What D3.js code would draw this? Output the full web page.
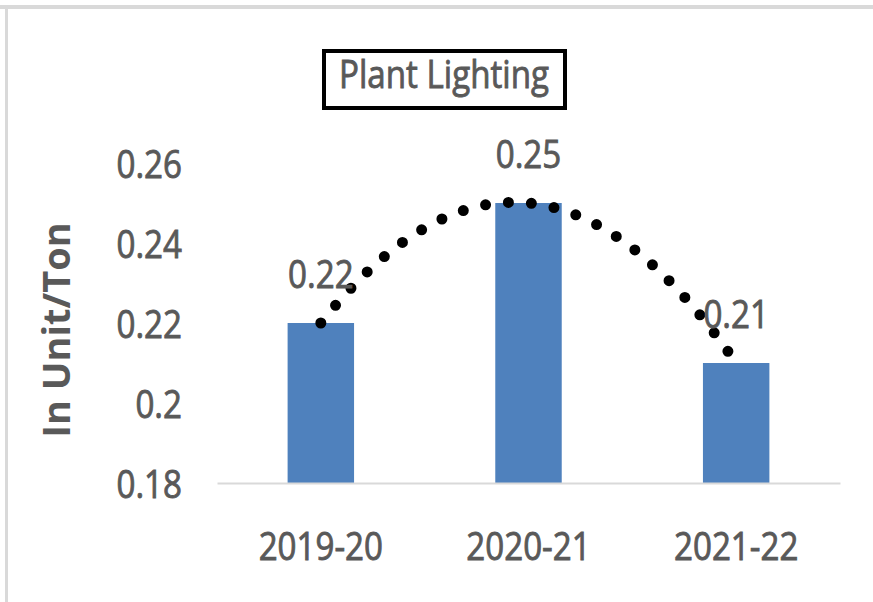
<!DOCTYPE html>
<html>
<head>
<meta charset="utf-8">
<script src="https://cdn.jsdelivr.net/npm/d3@7"></script>
<style>
  body { margin: 0; background: #fff; }
  text { font-family: "Open Sans", sans-serif; fill: #595959; }
  .semi { stroke: #595959; stroke-width: 0.9px; }
</style>
</head>
<body>
<div id="chart-area"></div>
<script>
// data
var years = ["2019-20", "2020-21", "2021-22"];
var values = [0.22, 0.25, 0.21];
var yTicks = [0.18, 0.2, 0.22, 0.24, 0.26];

var W = 873, H = 602;
var sx = 0.85; // narrow the glyphs a bit (the original font is condensed)

var svg = d3.select("#chart-area").append("svg")
    .attr("width", W)
    .attr("height", H);

// frame edges (top and left only, like the screenshot)
svg.append("rect").attr("x", 0).attr("y", 5).attr("width", W).attr("height", 4).attr("fill", "#d9d9d9");
svg.append("rect").attr("x", 5).attr("y", 5).attr("width", 3).attr("height", H).attr("fill", "#d9d9d9");

var x = d3.scaleBand().domain(years).range([217, 840]).paddingInner(0.68).paddingOuter(0.34);
var y = d3.scaleLinear().domain([0.18, 0.26]).range([483, 163]);

// Y axis (labels only)
var leftAxis = d3.axisLeft(y).tickValues(yTicks).tickSize(0).tickPadding(0)
    .tickFormat(function(d) { return String(+d.toFixed(2)); });
var yAxis = svg.append("g").attr("transform", "translate(182,0)").call(leftAxis);
yAxis.select(".domain").remove();
yAxis.selectAll("text")
    .attr("class", "semi")
    .attr("font-size", "39px")
    .attr("x", 0)
    .attr("dy", "0.36em")
    .attr("transform", "scale(" + sx + ",1)")
    .style("font-family", "'Open Sans', sans-serif")
    .style("fill", "#595959");

// bars
svg.selectAll("rect.bar")
    .data(values)
    .enter().append("rect")
    .attr("class", "bar")
    .attr("x", function(d, i) { return x(years[i]); })
    .attr("y", function(d) { return y(d); })
    .attr("width", x.bandwidth())
    .attr("height", function(d) { return y(0.18) - y(d); })
    .attr("fill", "#4f81bd");

// X axis
var bottomAxis = d3.axisBottom(x).tickSize(0).tickPadding(0);
var xAxis = svg.append("g").attr("transform", "translate(0,483)").call(bottomAxis);
xAxis.select(".domain").attr("stroke", "#d9d9d9").attr("stroke-width", 2);
xAxis.selectAll("text")
    .attr("class", "semi")
    .attr("font-size", "39px")
    .attr("y", 0)
    .attr("dy", 0)
    .attr("transform", "translate(0,77) scale(" + sx + ",1)")
    .style("font-family", "'Open Sans', sans-serif")
    .style("fill", "#595959");

// polynomial (order 2) trendline fitted to the three values
var n = values.length;
var a = ((values[2] - values[1]) - (values[1] - values[0])) / 2;
var b = (values[1] - values[0]) - a * 3;
var c = values[0] - a - b;
var xc = function(t) { return x(years[0]) + x.bandwidth() / 2 + (t - 1) * x.step(); };
var trend = d3.range(1, n + 0.001, 0.02).map(function(t) { return [xc(t), y(a * t * t + b * t + c)]; });
svg.append("path")
    .attr("d", d3.line()(trend))
    .attr("fill", "none")
    .attr("stroke", "#000")
    .attr("stroke-width", 11)
    .attr("stroke-linecap", "round")
    .attr("stroke-dasharray", "0,23");

// data labels
svg.selectAll("text.label")
    .data(values)
    .enter().append("text")
    .attr("class", "label semi")
    .attr("transform", function(d, i) {
        return "translate(" + (x(years[i]) + x.bandwidth() / 2) + "," + (y(d) - 35) + ") scale(" + sx + ",1)";
    })
    .attr("text-anchor", "middle")
    .attr("font-size", "39px")
    .text(function(d) { return String(d); });

// Y label
svg.append("text")
    .attr("transform", "translate(70,330) rotate(-90)")
    .attr("text-anchor", "middle")
    .attr("font-size", "38px")
    .attr("font-weight", "bold")
    .text("In Unit/Ton");

// Title box
svg.append("rect")
    .attr("x", 324).attr("y", 51).attr("width", 241).attr("height", 57)
    .attr("fill", "#fff").attr("stroke", "#000").attr("stroke-width", 4);
svg.append("text")
    .attr("class", "semi")
    .attr("transform", "translate(444,88) scale(" + sx + ",1)")
    .attr("text-anchor", "middle")
    .attr("font-size", "39px")
    .text("Plant Lighting");
</script>
</body>
</html>
